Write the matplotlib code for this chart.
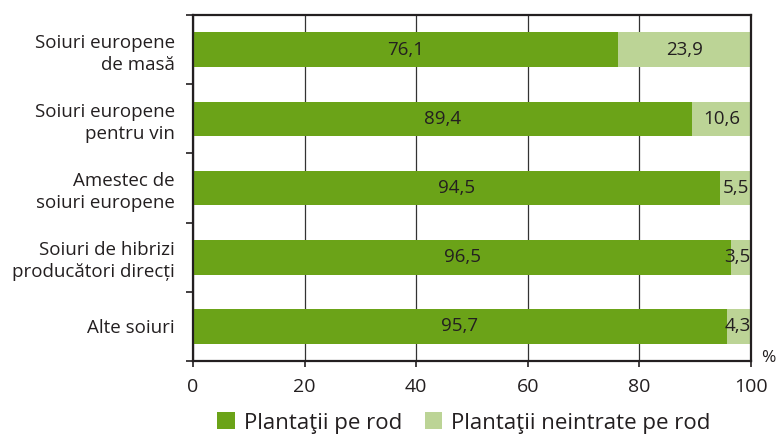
import matplotlib
matplotlib.use("Agg")
import matplotlib.pyplot as plt
import numpy as np

CATEGORIES = [
    "Soiuri europene\nde masă",
    "Soiuri europene\npentru vin",
    "Amestec de\nsoiuri europene",
    "Soiuri de hibrizi\nproducători direcți",
    "Alte soiuri",
]
ROD = [76.1, 89.4, 94.5, 96.5, 95.7]
NEINTRATE = [23.9, 10.6, 5.5, 3.5, 4.3]
SERIES_NAMES = ["Plantaţii pe rod", "Plantaţii neintrate pe rod"]
X_TICKS = [0, 20, 40, 60, 80, 100]

DARK = "#6ba318"
LIGHT = "#bcd496"
INK = "#231f20"

plt.rcParams["font.family"] = ["Open Sans", "DejaVu Sans"]

fig = plt.figure(figsize=(7.76, 4.36), dpi=100)
ax = fig.add_axes([0.2487, 0.172, 0.7191, 0.7936])

y = np.arange(len(CATEGORIES))
b1 = ax.barh(y, ROD, height=0.5, color=DARK, label=SERIES_NAMES[0], zorder=2)
b2 = ax.barh(y, NEINTRATE, left=ROD, height=0.5, color=LIGHT,
             label=SERIES_NAMES[1], zorder=2)

# value labels, centred in each segment (small ones kept inside the frame)
for i in range(len(CATEGORIES)):
    ax.text(ROD[i] / 2, y[i], f"{ROD[i]:.1f}".replace(".", ","),
            ha="center", va="center", fontsize=13.5, color=INK, zorder=3)
    cx = ROD[i] + NEINTRATE[i] / 2
    cx = min(cx, 100 - 2.4)
    ax.text(cx, y[i], f"{NEINTRATE[i]:.1f}".replace(".", ","),
            ha="center", va="center", fontsize=13.5, color=INK, zorder=3)

ax.set_xlim(0, 100)
ax.set_ylim(len(CATEGORIES) - 0.5, -0.5)
ax.set_xticks(X_TICKS)
ax.set_xticklabels([str(t) for t in X_TICKS], fontsize=14, color=INK)
ax.set_yticks(y)
ax.set_yticklabels(CATEGORIES, fontsize=13.5, color=INK, linespacing=1.3)
ax.tick_params(axis="y", length=0, pad=13)
ax.set_yticks(np.arange(len(CATEGORIES) + 1) - 0.5, minor=True)
ax.tick_params(axis="y", which="minor", length=5, width=1.2, color=INK)
ax.tick_params(axis="x", length=4, width=1.2, color=INK, pad=8)

ax.grid(True, axis="x", color="#333333", linewidth=0.9, zorder=1)
for s in ax.spines.values():
    s.set_color(INK)
    s.set_linewidth(1.6)

fig.text(0.999, 0.18, "%", fontsize=12.5, color=INK, ha="right", va="center")

fig.legend(handles=[b1, b2], loc="center", bbox_to_anchor=(0.598, 0.03),
           ncol=2, frameon=False, fontsize=16, handlelength=0.8,
           handleheight=0.8, handletextpad=0.4, columnspacing=1.0,
           labelcolor=INK)

fig.savefig("out.png", dpi=100)
